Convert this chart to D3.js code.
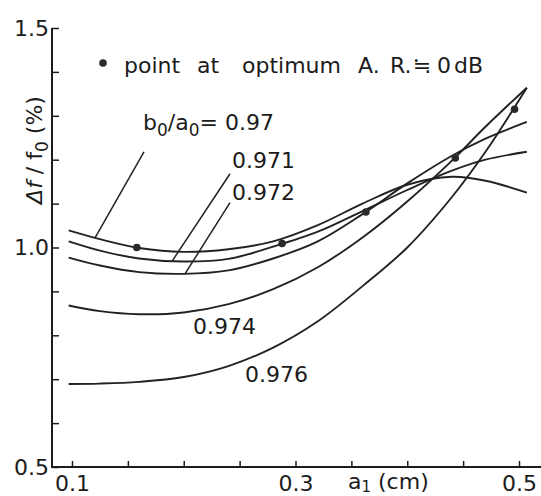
<!DOCTYPE html>
<html>
<head>
<meta charset="utf-8">
<script src="https://cdn.jsdelivr.net/npm/d3@7"></script>
<style>
  html, body { margin: 0; padding: 0; background: #fff; }
  svg { display: block; }
  text { font-family: "DejaVu Sans", sans-serif; fill: #1c1c1c; }
</style>
</head>
<body>
<script>
// a1 (cm) where each curve was read
var aGrid = [0.097, 0.125, 0.16, 0.2, 0.24, 0.28, 0.32, 0.36, 0.40, 0.44, 0.47, 0.507]

// b0/a0 of each curve
var ratios = ['0.97', '0.971', '0.972', '0.974', '0.976']

// df/f0 (%)
var df0970 = [1.039, 1.019, 0.999, 0.990, 0.996, 1.014, 1.051, 1.100, 1.143, 1.161, 1.152, 1.125]
var df0971 = [1.014, 0.993, 0.975, 0.968, 0.974, 1.002, 1.036, 1.083, 1.131, 1.175, 1.200, 1.218]
var df0972 = [0.977, 0.959, 0.944, 0.940, 0.948, 0.975, 1.014, 1.076, 1.146, 1.209, 1.248, 1.286]
var df0974 = [0.868, 0.855, 0.848, 0.852, 0.871, 0.905, 0.955, 1.023, 1.105, 1.198, 1.275, 1.364]
var df0976 = [0.689, 0.690, 0.694, 0.705, 0.730, 0.772, 0.832, 0.912, 1.000, 1.115, 1.218, 1.364]

// points at optimum A.R. (one per curve)
var optA = [0.158, 0.288, 0.363, 0.443, 0.496]
var optDf = [1.000, 1.009, 1.081, 1.204, 1.315]

var xTicks = [0.1, 0.15, 0.2, 0.25, 0.3, 0.35, 0.4, 0.45, 0.5]
var xTickLabels = ['0.1', '0.3', '0.5']
var yTicks = [0.5, 0.6, 0.7, 0.8, 0.9, 1.0, 1.1, 1.2, 1.3, 1.4, 1.5]
var yTickLabels = ['0.5', '1.0', '1.5']

var series = [df0970, df0971, df0972, df0974, df0976]

var W = 541, H = 496
  , axisX = 52

var svg = d3.select('body').append('svg')
  .attr('width', W)
  .attr('height', H)

var x = d3.scaleLinear().domain([0.1, 0.5]).range([72, 519])
var y = d3.scaleLinear().domain([0.5, 1.5]).range([467, 28])

// x axis, ticks pointing in, labels only on some ticks
var xAxis = svg.append('g')
  .attr('transform', 'translate(0,' + y(0.5) + ')')
  .call(d3.axisBottom(x)
    .tickValues(xTicks)
    .tickSize(-6)
    .tickPadding(8)
    .tickFormat(function(d) {
      var s = d3.format('.2f')(d).replace(/0$/, '')
      return xTickLabels.indexOf(s) >= 0 ? s : ''
    }))
xAxis.select('.domain').remove()
xAxis.append('line')
  .attr('x1', axisX).attr('x2', W)
  .attr('stroke', '#1c1c1c').attr('stroke-width', 2)

var yAxis = svg.append('g')
  .attr('transform', 'translate(' + axisX + ',0)')
  .call(d3.axisLeft(y)
    .tickValues(yTicks)
    .tickSize(-7)
    .tickPadding(3)
    .tickFormat(function(d) {
      var s = d3.format('.1f')(d)
      return yTickLabels.indexOf(s) >= 0 ? s : ''
    }))
yAxis.select('.domain').remove()
yAxis.append('line')
  .attr('y1', y(0.5) + 1).attr('y2', y(1.5))
  .attr('stroke', '#1c1c1c').attr('stroke-width', 2)

svg.selectAll('.tick line').attr('stroke', '#1c1c1c').attr('stroke-width', 1.5)
svg.selectAll('.tick text')
  .style('font-family', '"DejaVu Sans", sans-serif')
  .style('font-size', '22px')
  .attr('fill', '#1c1c1c')

// curves
var line = d3.line()
  .x(function(d) { return x(d[0]) })
  .y(function(d) { return y(d[1]) })
  .curve(d3.curveCatmullRom.alpha(0.5))

var paths = svg.selectAll('path.curve')
  .data(series)
  .enter().append('path')
  .attr('class', 'curve')
  .attr('d', function(s) { return line(s.map(function(v, i) { return [aGrid[i], v] })) })
  .attr('fill', 'none')
  .attr('stroke', '#222')
  .attr('stroke-width', 1.9)

// optimum points
svg.selectAll('circle.opt')
  .data(optA)
  .enter().append('circle')
  .attr('class', 'opt')
  .attr('cx', function(d) { return x(d) })
  .attr('cy', function(d, i) { return y(optDf[i]) })
  .attr('r', 3.8)
  .attr('fill', '#2a2a2a')

// y of a drawn curve at a given x pixel
function yOnPath(node, px) {
  var lo = 0, hi = node.getTotalLength(), mid, p
  for (var k = 0; k < 40; k++) {
    mid = (lo + hi) / 2
    p = node.getPointAtLength(mid)
    if (p.x < px) lo = mid
    else hi = mid
  }
  return node.getPointAtLength(lo).y
}

// labels and leader lines: [curve index, label a, label df, leader start a, df, leader end a]
var labelLayout = [
  [0, 0.1635, 1.268, 0.1644, 1.218, 0.1206],
  [1, 0.2432, 1.182, 0.2414, 1.168, 0.1895],
  [2, 0.2432, 1.109, 0.2414, 1.102, 0.2011],
  [3, 0.2083, 0.8023, null],
  [4, 0.2548, 0.6932, null]
]

var pathNodes = paths.nodes()
labelLayout.forEach(function(l) {
  var t = svg.append('text')
    .attr('x', x(l[1]))
    .attr('y', y(l[2]))
    .style('font-size', '22px')
  if (l[0] === 0) {
    t.append('tspan').text('b')
    t.append('tspan').attr('dy', 6).style('font-size', '17px').text('0')
    t.append('tspan').attr('dy', -6).text('/a')
    t.append('tspan').attr('dy', 6).style('font-size', '17px').text('0')
    t.append('tspan').attr('dy', -6).text('= ' + ratios[0])
  } else {
    t.text(ratios[l[0]])
  }
  if (l[3] !== null) {
    var ex = x(l[5])
    svg.append('line')
      .attr('x1', x(l[3])).attr('y1', y(l[4]))
      .attr('x2', ex).attr('y2', yOnPath(pathNodes[l[0]], ex))
      .attr('stroke', '#222').attr('stroke-width', 1.5)
  }
})

// legend
var legendWords = [['point', 124], ['at', 197], ['optimum', 242], ['A.', 358], ['R.', 390], ['\u2252', 413], ['0', 437], ['dB', 454]]
svg.append('circle')
  .attr('cx', 103).attr('cy', 63).attr('r', 3.8).attr('fill', '#2a2a2a')
var lg = svg.append('text')
  .attr('y', 73)
  .style('font-size', '22px')
legendWords.forEach(function(w) {
  lg.append('tspan').attr('x', w[1]).text(w[0])
})

// axis titles
var yt = svg.append('text')
  .attr('transform', 'translate(42,150) rotate(-90)')
  .attr('text-anchor', 'middle')
  .style('font-size', '22px')
yt.append('tspan').style('font-style', 'italic').text('\u0394f')
yt.append('tspan').text(' / f')
yt.append('tspan').attr('dy', 6).style('font-size', '17px').text('0')
yt.append('tspan').attr('dy', -6).text('  (%)')

var xt = svg.append('text')
  .attr('x', 348).attr('y', 489)
  .style('font-size', '22px')
xt.append('tspan').text('a')
xt.append('tspan').attr('dy', 3).style('font-size', '15px').text('1')
xt.append('tspan').attr('dy', -3).text(' (cm)')
</script>
</body>
</html>
